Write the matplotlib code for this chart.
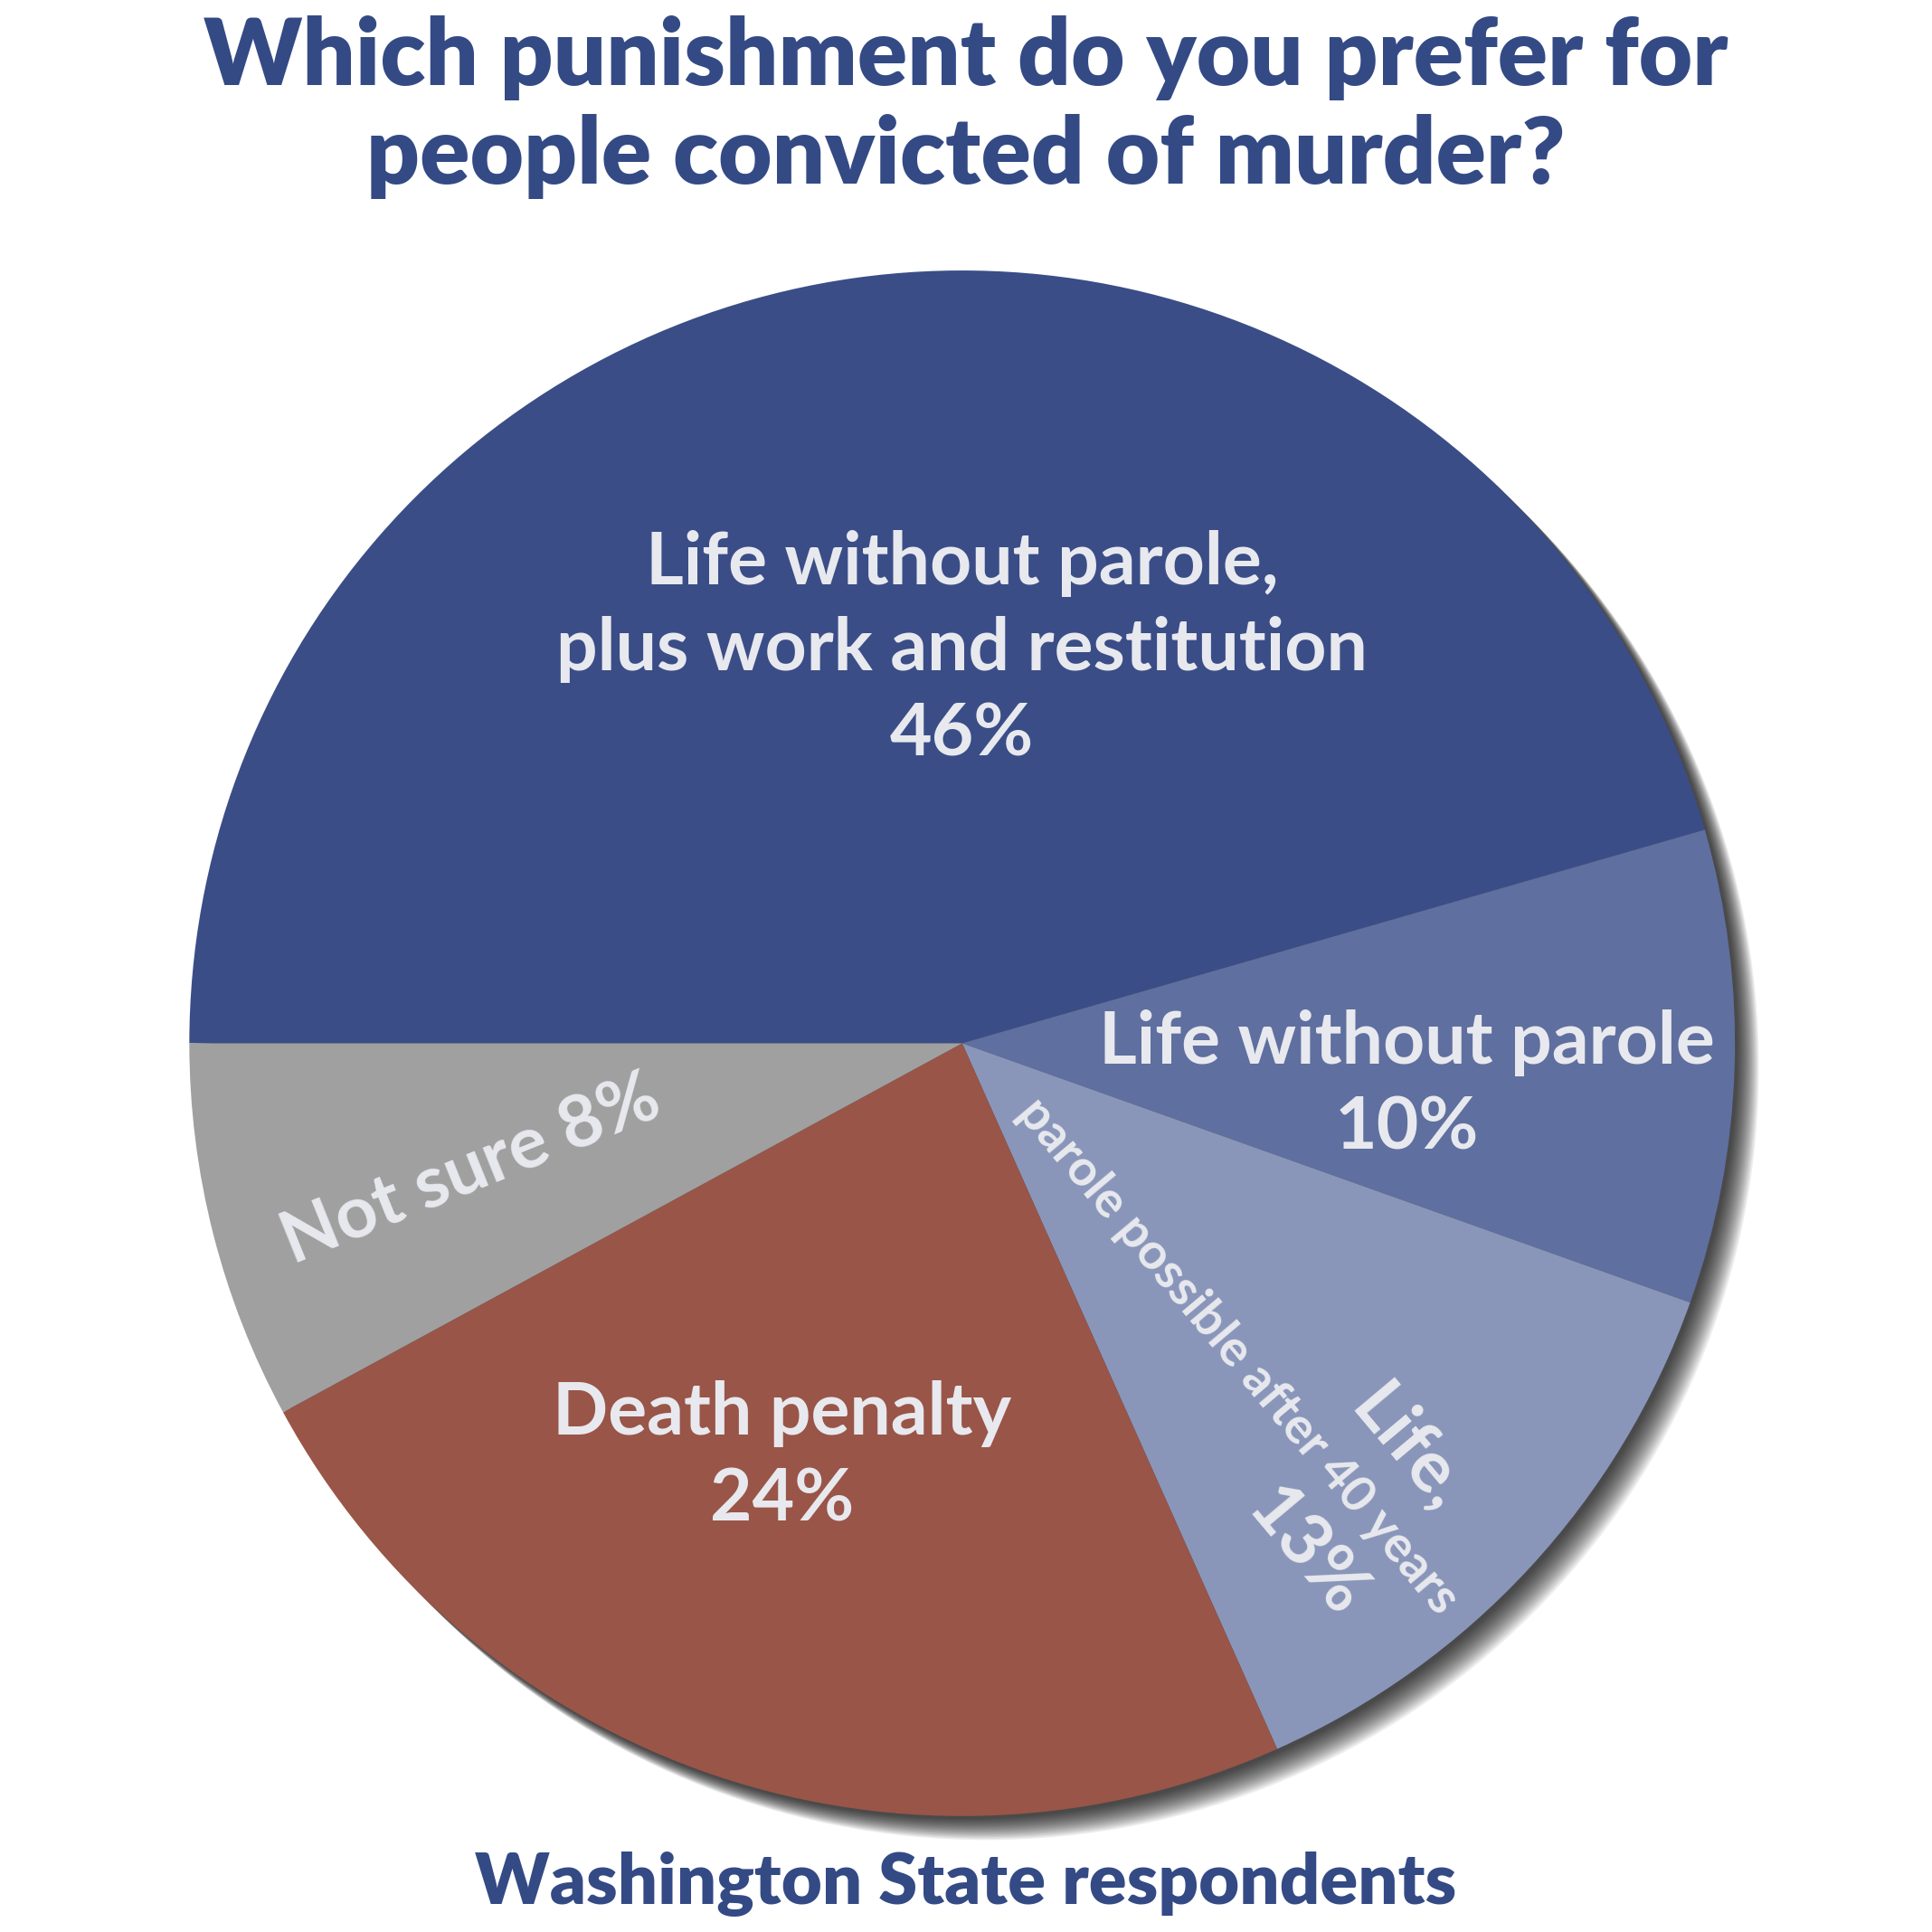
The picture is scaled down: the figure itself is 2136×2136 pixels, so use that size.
import matplotlib
matplotlib.use("Agg")
import matplotlib.pyplot as plt
from matplotlib.patches import Circle

# data
labels = ["Life without parole,\nplus work and restitution", "Life without parole",
          "Life, parole possible after 40 years", "Death penalty", "Not sure"]
values = [46, 10, 13, 24, 8]
colors = ["#3A4D87", "#5F6F9F", "#8996BA", "#995548", "#A0A0A0"]

title = "Which punishment do you prefer for\npeople convicted of murder?"
subtitle = "Washington State respondents"

navy = "#344A85"
txt = "#E8E9EE"
plt.rcParams['font.family'] = ['Lato', 'DejaVu Sans']

fig = plt.figure(figsize=(10.68, 10.68), dpi=200)
ax = fig.add_axes([0.098, 0.060, 0.8, 0.8])

# soft drop shadow, built from stacked circles
for i in range(16):
    off = 0.004 + i * 0.0018
    ax.add_patch(Circle((off, -off), 1.0, color="black", alpha=0.07, lw=0,
                        zorder=0, clip_on=False))

wedges, _ = ax.pie(values, colors=colors, startangle=180, counterclock=False,
                   radius=1.0, wedgeprops=dict(linewidth=0))
for w in wedges:
    w.set_zorder(2)

ax.set_xlim(-1.0, 1.0)
ax.set_ylim(-1.0, 1.0)
ax.set_aspect('equal')
ax.axis('off')

def lab(x, y, s, size=29, rot=0, ls=1.3):
    ax.text(x, y, s, ha='center', va='center', color=txt, fontsize=size,
            fontweight='bold', rotation=rot, rotation_mode='anchor',
            linespacing=ls, zorder=5)

# positions in pie units (radius 1)
lab(0.0, 0.51, labels[0] + "\n%d%%" % values[0], ls=1.35)
lab(0.576, -0.055, labels[1] + "\n%d%%" % values[1], ls=1.35)
lab(-0.635, -0.165, "%s %d%%" % (labels[4], values[4]), rot=22)
lab(-0.233, -0.535, labels[3] + "\n%d%%" % values[3], ls=1.35)
lab(0.578, -0.525, "Life,", rot=-50)
lab(0.357, -0.405, "parole possible after 40 years", size=20, rot=-50)
lab(0.445, -0.66, "%d%%" % values[2], rot=-50)

fig.text(0.5, 0.992, title, ha='center', va='top', color=navy, fontsize=37,
         fontweight='heavy', linespacing=1.2)
fig.text(0.5, 0.008, subtitle, ha='center', va='bottom', color=navy, fontsize=28,
         fontweight='heavy')

fig.savefig("out.png", dpi=200, facecolor="white")
